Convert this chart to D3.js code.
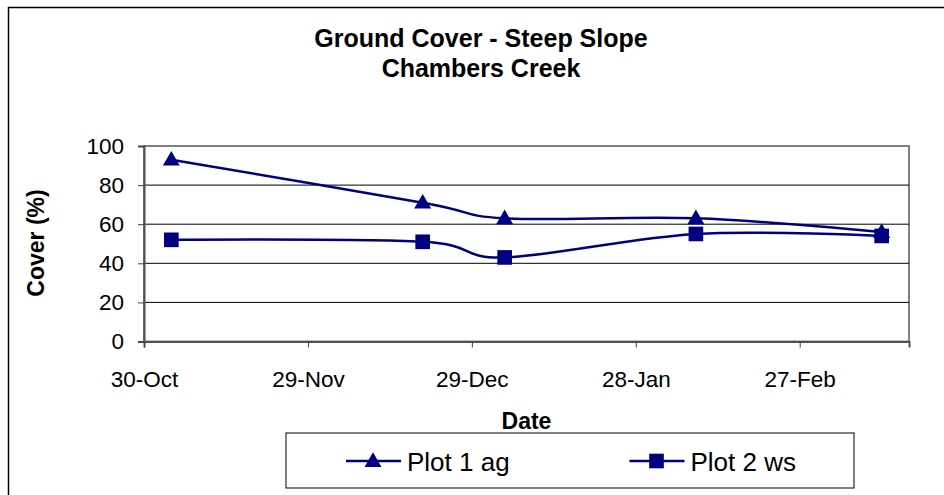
<!DOCTYPE html>
<html>
<head>
<meta charset="utf-8">
<script src="https://cdn.jsdelivr.net/npm/d3@7"></script>
<style>
  html, body { margin: 0; padding: 0; background: #fff; }
  svg { display: block; font-family: Arial, "Liberation Sans", sans-serif; }
</style>
</head>
<body>
<svg id="chart" width="944" height="495"></svg>
<script>
// ---- data ----
const titleLines = ["Ground Cover - Steep Slope", "Chambers Creek"];
const sampleDates = ["2002-11-04", "2002-12-20", "2003-01-04", "2003-02-08", "2003-03-14"];
const plot1 = [93, 71, 63, 63, 56];
const plot2 = [52, 51, 43, 55, 54];
const seriesNames = ["Plot 1 ag", "Plot 2 ws"];
const xTickDates = ["2002-10-30", "2002-11-29", "2002-12-29", "2003-01-28", "2003-02-27"];
const xDomain = ["2002-10-30", "2003-03-19"];
const yTicks = [0, 20, 40, 60, 80, 100];

const parse = d3.timeParse("%Y-%m-%d");
const fmt = d3.timeFormat("%-d-%b");
const navy = "#000080";

const svg = d3.select("#chart");

// chart area border (extends beyond the visible frame)
svg.append("rect").attr("x", 8.5).attr("y", 7.5).attr("width", 1000).attr("height", 600)
  .attr("fill", "#fff").attr("stroke", "#000").attr("stroke-width", 1.5);

const L = 144, R = 909, T = 146, B = 341.5;
const x = d3.scaleTime().domain(xDomain.map(parse)).range([L, R]);
const y = d3.scaleLinear().domain([0, 100]).range([B, T]);

// title
const title = svg.append("text").attr("text-anchor", "middle")
  .attr("font-weight", "bold").attr("font-size", 25).attr("fill", "#000");
titleLines.forEach((t, i) => {
  title.append("tspan").attr("x", 481).attr("y", 47 + i * 30).text(t);
});

// plot area
svg.append("rect").attr("x", L).attr("y", T).attr("width", R - L).attr("height", B - T)
  .attr("fill", "#fff").attr("stroke", "#808080").attr("stroke-width", 2);

// gridlines
svg.append("g").selectAll("line").data(yTicks.filter(v => v > 0 && v < 100)).join("line")
  .attr("x1", L).attr("x2", R).attr("y1", d => y(d)).attr("y2", d => y(d))
  .attr("stroke", "#000").attr("stroke-width", 1);

// y axis
const yAxis = svg.append("g").attr("transform", `translate(${L},0)`)
  .call(d3.axisLeft(y).tickValues(yTicks).tickSize(6).tickPadding(14));
yAxis.select(".domain").attr("stroke", "#505050").attr("stroke-width", 2);
yAxis.selectAll(".tick line").attr("stroke", "#404040").attr("stroke-width", 1);
yAxis.selectAll("text").attr("font-size", 22.5).attr("fill", "#000")
  .attr("font-family", "Arial, 'Liberation Sans', sans-serif");

// x axis
const xAxis = svg.append("g").attr("transform", `translate(0,${B})`)
  .call(d3.axisBottom(x).tickValues(xTickDates.map(parse)).tickFormat(fmt).tickSize(6).tickPadding(24));
xAxis.select(".domain").attr("stroke", "#505050").attr("stroke-width", 2);
xAxis.selectAll(".tick line").attr("stroke", "#404040").attr("stroke-width", 1);
xAxis.selectAll("text").attr("font-size", 22.5).attr("fill", "#000")
  .attr("font-family", "Arial, 'Liberation Sans', sans-serif");

// axis titles
svg.append("text").attr("x", (L + R) / 2).attr("y", 429).attr("text-anchor", "middle")
  .attr("font-weight", "bold").attr("font-size", 23).text("Date");
svg.append("text").attr("transform", `translate(44,243) rotate(-90)`).attr("text-anchor", "middle")
  .attr("font-weight", "bold").attr("font-size", 23).text("Cover (%)");

// series
const series = [plot1, plot2].map((vals, i) => ({
  name: seriesNames[i],
  shape: i === 0 ? d3.symbolTriangle : d3.symbolSquare,
  points: vals.map((v, j) => ({ date: parse(sampleDates[j]), value: v }))
}));

const line = d3.line().x(d => x(d.date)).y(d => y(d.value)).curve(d3.curveCardinal.tension(0));

const markerSize = s => s === d3.symbolTriangle ? 125 : 215;

series.forEach(s => {
  svg.append("path").datum(s.points).attr("d", line)
    .attr("fill", "none").attr("stroke", navy).attr("stroke-width", 2.5);
});
series.forEach(s => {
  svg.append("g").selectAll("path").data(s.points).join("path")
    .attr("transform", d => `translate(${x(d.date)},${y(d.value) + (s.shape === d3.symbolTriangle ? 1 : 0)})`)
    .attr("d", d3.symbol().type(s.shape).size(markerSize(s.shape)))
    .attr("fill", navy);
});

// legend
const lg = svg.append("g");
lg.append("rect").attr("x", 286).attr("y", 433).attr("width", 568).attr("height", 55)
  .attr("fill", "#fff").attr("stroke", "#000").attr("stroke-width", 1);
const legendX = [346, 629.5];
series.forEach((s, i) => {
  const g = lg.append("g").attr("transform", `translate(${legendX[i]},461)`);
  g.append("line").attr("x1", 0).attr("x2", 55).attr("y1", 0).attr("y2", 0)
    .attr("stroke", navy).attr("stroke-width", 2.5);
  g.append("path").attr("transform", `translate(27,${s.shape === d3.symbolTriangle ? 1 : 0})`)
    .attr("d", d3.symbol().type(s.shape).size(markerSize(s.shape))).attr("fill", navy);
  g.append("text").attr("x", 61).attr("y", 10).attr("font-size", 26).attr("fill", "#000").text(s.name);
});
</script>
</body>
</html>
